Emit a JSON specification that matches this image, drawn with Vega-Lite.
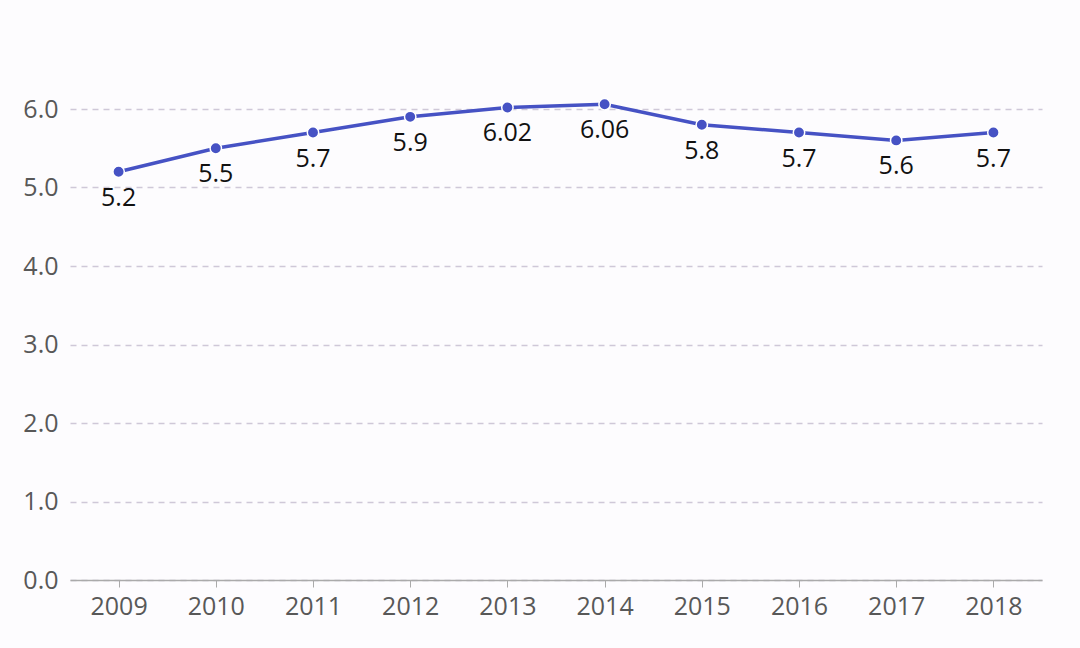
{
  "$schema": "https://vega.github.io/schema/vega-lite/v6.json",
  "autosize": {"type": "none"},
  "width": 972,
  "height": 471,
  "padding": {"left": 70, "top": 109, "right": 38, "bottom": 68},
  "background": "#fdfcfe",
  "config": {
    "view": {"stroke": null},
    "font": "Open Sans"
  },
  "data": {
    "values": [
      {"year": "2009", "value": 5.2, "label": "5.2"},
      {"year": "2010", "value": 5.5, "label": "5.5"},
      {"year": "2011", "value": 5.7, "label": "5.7"},
      {"year": "2012", "value": 5.9, "label": "5.9"},
      {"year": "2013", "value": 6.02, "label": "6.02"},
      {"year": "2014", "value": 6.06, "label": "6.06"},
      {"year": "2015", "value": 5.8, "label": "5.8"},
      {"year": "2016", "value": 5.7, "label": "5.7"},
      {"year": "2017", "value": 5.6, "label": "5.6"},
      {"year": "2018", "value": 5.7, "label": "5.7"}
    ]
  },
  "encoding": {
    "x": {
      "field": "year", "type": "ordinal",
      "scale": {"type": "point", "padding": 0.5},
      "axis": {
        "title": null, "labelAngle": 0, "labelFontSize": 25, "labelColor": "#585858",
        "domainColor": "#aaaaaa", "domainWidth": 1.5, "tickColor": "#aaaaaa", "tickSize": 7,
        "labelPadding": 7, "grid": false, "labelFont": "Open Sans"
      }
    },
    "y": {
      "field": "value", "type": "quantitative",
      "scale": {"domain": [0, 6], "nice": false, "zero": true},
      "axis": {
        "title": null, "values": [0, 1, 2, 3, 4, 5, 6], "format": ".1f",
        "labelFontSize": 25, "labelColor": "#585858", "labelPadding": 12,
        "domain": false, "ticks": false,
        "grid": true, "gridColor": "#cfc8d8", "gridDash": [6, 5], "gridWidth": 1.3,
        "labelFont": "Open Sans"
      }
    }
  },
  "layer": [
    {"mark": {"type": "line", "color": "#4652c4", "strokeWidth": 3.5, "clip": false}},
    {"mark": {"type": "point", "filled": true, "color": "#4652c4", "size": 130, "stroke": "#ffffff", "strokeWidth": 1.5, "opacity": 1, "clip": false}},
    {
      "mark": {"type": "text", "dy": 26, "fontSize": 25, "color": "#111111", "baseline": "middle", "font": "Open Sans"},
      "encoding": {"text": {"field": "label"}}
    }
  ]
}
